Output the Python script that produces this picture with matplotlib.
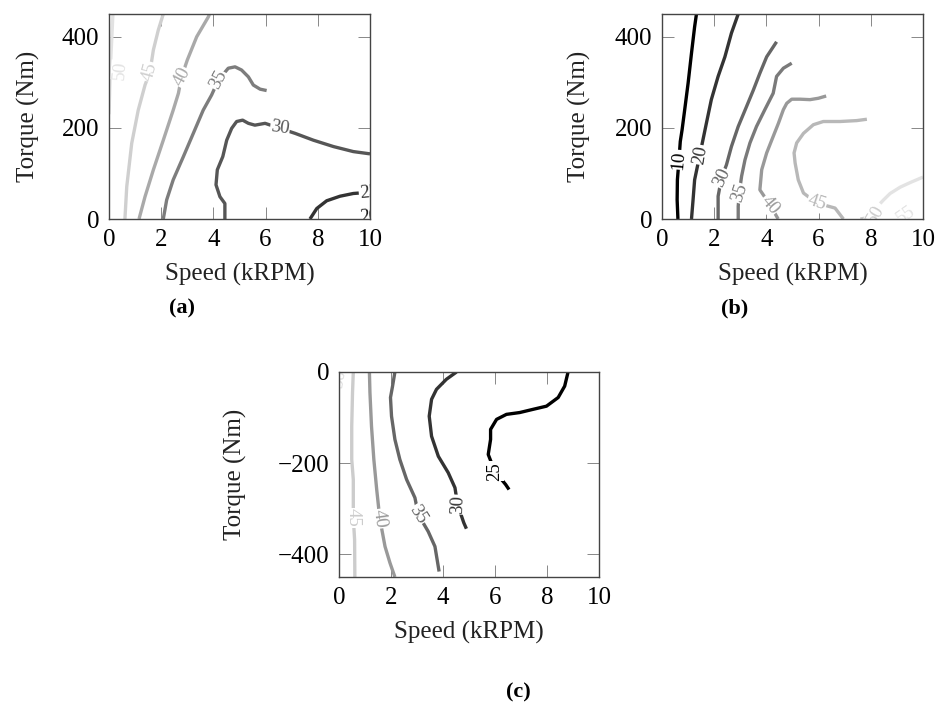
import matplotlib
matplotlib.use("Agg")
import matplotlib.pyplot as plt

# ---------------- data (Speed kRPM, Torque Nm) ----------------
# Panel (a)
A_LEVELS = [50, 45, 40, 35, 30, 25, 20]
A_COLORS = ["#e2e2e2", "#cfcfcf", "#a9a9a9", "#7d7d7d", "#565656", "#333333", "#1a1a1a"]
A_X = [
    [0.0, 0.06, 0.15],
    [0.61, 0.68, 0.87, 1.12, 1.38, 1.57, 1.70, 1.89, 2.08],
    [1.15, 1.38, 1.70, 2.08, 2.46, 2.66, 2.78, 3.00, 3.36, 3.81, 3.85],
    [2.08, 2.21, 2.46, 2.85, 3.23, 3.61, 3.93, 4.19, 4.57, 4.83, 5.08, 5.34, 5.53, 5.79, 6.04],
    [4.44, 4.44, 4.25, 4.10, 4.15, 4.36, 4.51, 4.70, 4.89, 5.12, 5.34, 5.59, 5.98, 6.55, 7.13, 7.83, 8.60, 9.36, 10.0],
    [7.70, 7.96, 8.34, 8.85, 9.36, 9.81, 10.0],
    [9.7, 10.0],
]
A_Y = [
    [230, 340, 450],
    [0, 71, 166, 239, 294, 323, 371, 415, 450],
    [0, 49, 108, 173, 239, 276, 312, 349, 400, 444, 450],
    [0, 42, 86, 137, 188, 239, 272, 305, 331, 334, 327, 312, 294, 285, 282],
    [0, 34, 49, 75, 108, 137, 173, 199, 214, 217, 210, 206, 210, 199, 188, 173, 159, 148, 143],
    [0, 23, 40, 50, 56, 58, 59],
    [0, 2],
]
A_LABEL_X = [0.42, 1.57, 2.78, 4.19, 6.55, 9.95, 9.95]
A_LABEL_Y = [327, 323, 312, 305, 199, 58, 5]
A_LABEL_ROT = [85, 75, 62, 62, -8, 5, 5]

# Panel (b)
B_LEVELS = [10, 20, 30, 35, 40, 45, 50, 55]
B_COLORS = ["#000000", "#333333", "#666666", "#7a7a7a", "#999999", "#b8b8b8", "#cccccc", "#e3e3e3"]
B_X = [
    [0.61, 0.58, 0.59, 0.65, 0.70, 0.77, 0.87, 1.00, 1.13, 1.25, 1.32],
    [1.13, 1.19, 1.25, 1.45, 1.57, 1.70, 1.89, 2.15, 2.41, 2.66, 2.92],
    [2.15, 2.15, 2.28, 2.47, 2.66, 2.92, 3.24, 3.50, 3.75, 4.01, 4.39],
    [2.92, 2.92, 2.96, 3.05, 3.18, 3.37, 3.62, 3.94, 4.26, 4.39, 4.65, 4.97],
    [4.45, 4.14, 3.75, 3.82, 4.01, 4.21, 4.46, 4.65, 4.78, 4.97, 5.29, 5.67, 5.99, 6.29],
    [6.95, 6.63, 5.93, 5.42, 5.22, 5.10, 5.06, 5.16, 5.42, 5.80, 6.18, 6.82, 7.46, 7.85],
    [7.6, 8.0, 8.3],
    [8.36, 8.49, 8.74, 9.13, 9.51, 10.0],
]
B_Y = [
    [0, 42, 86, 130, 170, 196, 240, 298, 364, 422, 450],
    [0, 42, 86, 141, 174, 210, 262, 313, 356, 408, 450],
    [0, 50, 90, 119, 159, 203, 247, 283, 320, 356, 389],
    [0, 28, 57, 94, 130, 167, 203, 240, 276, 313, 331, 342],
    [0, 31, 64, 108, 145, 174, 210, 240, 254, 263, 263, 262, 265, 270],
    [0, 24, 35, 57, 86, 123, 145, 167, 188, 207, 214, 214, 216, 219],
    [0, 4, 13],
    [34, 42, 56, 70, 80, 92],
]
B_LABEL_X = [0.65, 1.45, 2.28, 2.96, 4.14, 5.93, 8.2, 9.35]
B_LABEL_Y = [130, 141, 90, 57, 31, 35, 10, 8]
B_LABEL_ROT = [85, 80, 65, 72, -50, -18, 60, 35]

# Panel (c)
C_LEVELS = [50, 45, 40, 35, 30, 25]
C_COLORS = ["#dddddd", "#cccccc", "#999999", "#666666", "#333333", "#000000"]
C_X = [
    [0.0, 0.02],
    [0.55, 0.52, 0.49, 0.49, 0.55, 0.55, 0.55, 0.60, 0.61],
    [1.17, 1.19, 1.25, 1.34, 1.45, 1.57, 1.77, 1.96, 2.15],
    [2.15, 2.06, 1.98, 2.02, 2.15, 2.34, 2.60, 2.92, 3.05, 3.43, 3.69, 3.85],
    [4.52, 4.13, 3.75, 3.56, 3.47, 3.56, 3.82, 4.20, 4.46, 4.56, 4.80, 4.90],
    [8.81, 8.68, 8.43, 7.98, 7.46, 6.95, 6.44, 6.06, 5.83, 5.83, 5.74, 5.99, 6.41, 6.54],
]
C_Y = [
    [0, -20],
    [0, -45, -119, -192, -236, -280, -320, -368, -450],
    [0, -45, -119, -192, -258, -322, -383, -419, -450],
    [0, -31, -56, -97, -148, -192, -236, -276, -313, -350, -383, -438],
    [0, -16, -38, -60, -97, -141, -185, -221, -254, -291, -331, -344],
    [0, -31, -56, -75, -82, -89, -93, -104, -126, -148, -181, -218, -247, -258],
]
C_LABEL_X = [0.0, 0.55, 1.57, 3.05, 4.56, 5.99]
C_LABEL_Y = [-14, -320, -322, -313, -291, -218]
C_LABEL_ROT = [80, -90, -82, -58, 88, 90]

X_TICKS = [0, 2, 4, 6, 8, 10]
A_Y_TICKS = [0, 200, 400]
C_Y_TICKS = [-400, -200, 0]

# ---------------- style ----------------
SERIF = ["Liberation Serif", "DejaVu Serif"]
LABEL_FS = 18
plt.rcParams["font.family"] = SERIF

fig = plt.figure(figsize=(9.44, 7.05), dpi=100)


def make_panel(rect, xs, ys, levels, colors, lx, ly, lrot, ylim, yticks, ylabel_x, caption, cap_xy):
    ax = fig.add_axes(rect)
    for x, y, c in zip(xs, ys, colors):
        ax.plot(x, y, color=c, lw=2.4, solid_capstyle="butt", zorder=2)
    for lev, c, x, y, r in zip(levels, colors, lx, ly, lrot):
        ax.text(x, y, str(lev), color=c, fontsize=13.5, rotation=r,
                rotation_mode="anchor", ha="center", va="center",
                clip_on=True, zorder=3,
                bbox=dict(fc="white", ec="none", pad=0.4))
    ax.set_xlim(0, 10)
    ax.set_ylim(*ylim)
    ax.set_xticks(X_TICKS)
    ax.set_yticks(yticks)
    ax.tick_params(direction="in", length=8.5, width=0.7, color="#888888",
                   top=True, right=True, labelsize=LABEL_FS, pad=7)
    for s in ax.spines.values():
        s.set_color("#444444")
        s.set_linewidth(1.0)
        s.set_zorder(4)
    ax.set_xlabel("Speed (kRPM)", fontsize=LABEL_FS, color="#222222")
    ax.xaxis.set_label_coords(0.5, -0.27)
    ax.xaxis.label.set_va("center")
    ax.set_ylabel("Torque (Nm)", fontsize=LABEL_FS, color="#222222")
    ax.yaxis.set_label_coords(ylabel_x, 0.5)
    ax.yaxis.label.set_va("center")
    fig.text(cap_xy[0], cap_xy[1], caption, fontsize=16, fontweight="bold",
             ha="center", va="center")
    return ax


make_panel([109 / 944, 1 - 219 / 705, 261 / 944, 205 / 705], A_X, A_Y, A_LEVELS, A_COLORS,
           A_LABEL_X, A_LABEL_Y, A_LABEL_ROT, (0, 450), A_Y_TICKS, -0.31,
           "(a)", (182 / 944, 1 - 308 / 705))
make_panel([662 / 944, 1 - 219 / 705, 261 / 944, 205 / 705], B_X, B_Y, B_LEVELS, B_COLORS,
           B_LABEL_X, B_LABEL_Y, B_LABEL_ROT, (0, 450), A_Y_TICKS, -0.315,
           "(b)", (735 / 944, 1 - 308 / 705))
make_panel([339 / 944, 1 - 577 / 705, 260 / 944, 205 / 705], C_X, C_Y, C_LEVELS, C_COLORS,
           C_LABEL_X, C_LABEL_Y, C_LABEL_ROT, (-450, 0), C_Y_TICKS, -0.40,
           "(c)", (518 / 944, 1 - 692 / 705))

fig.savefig("out.png", dpi=100)
